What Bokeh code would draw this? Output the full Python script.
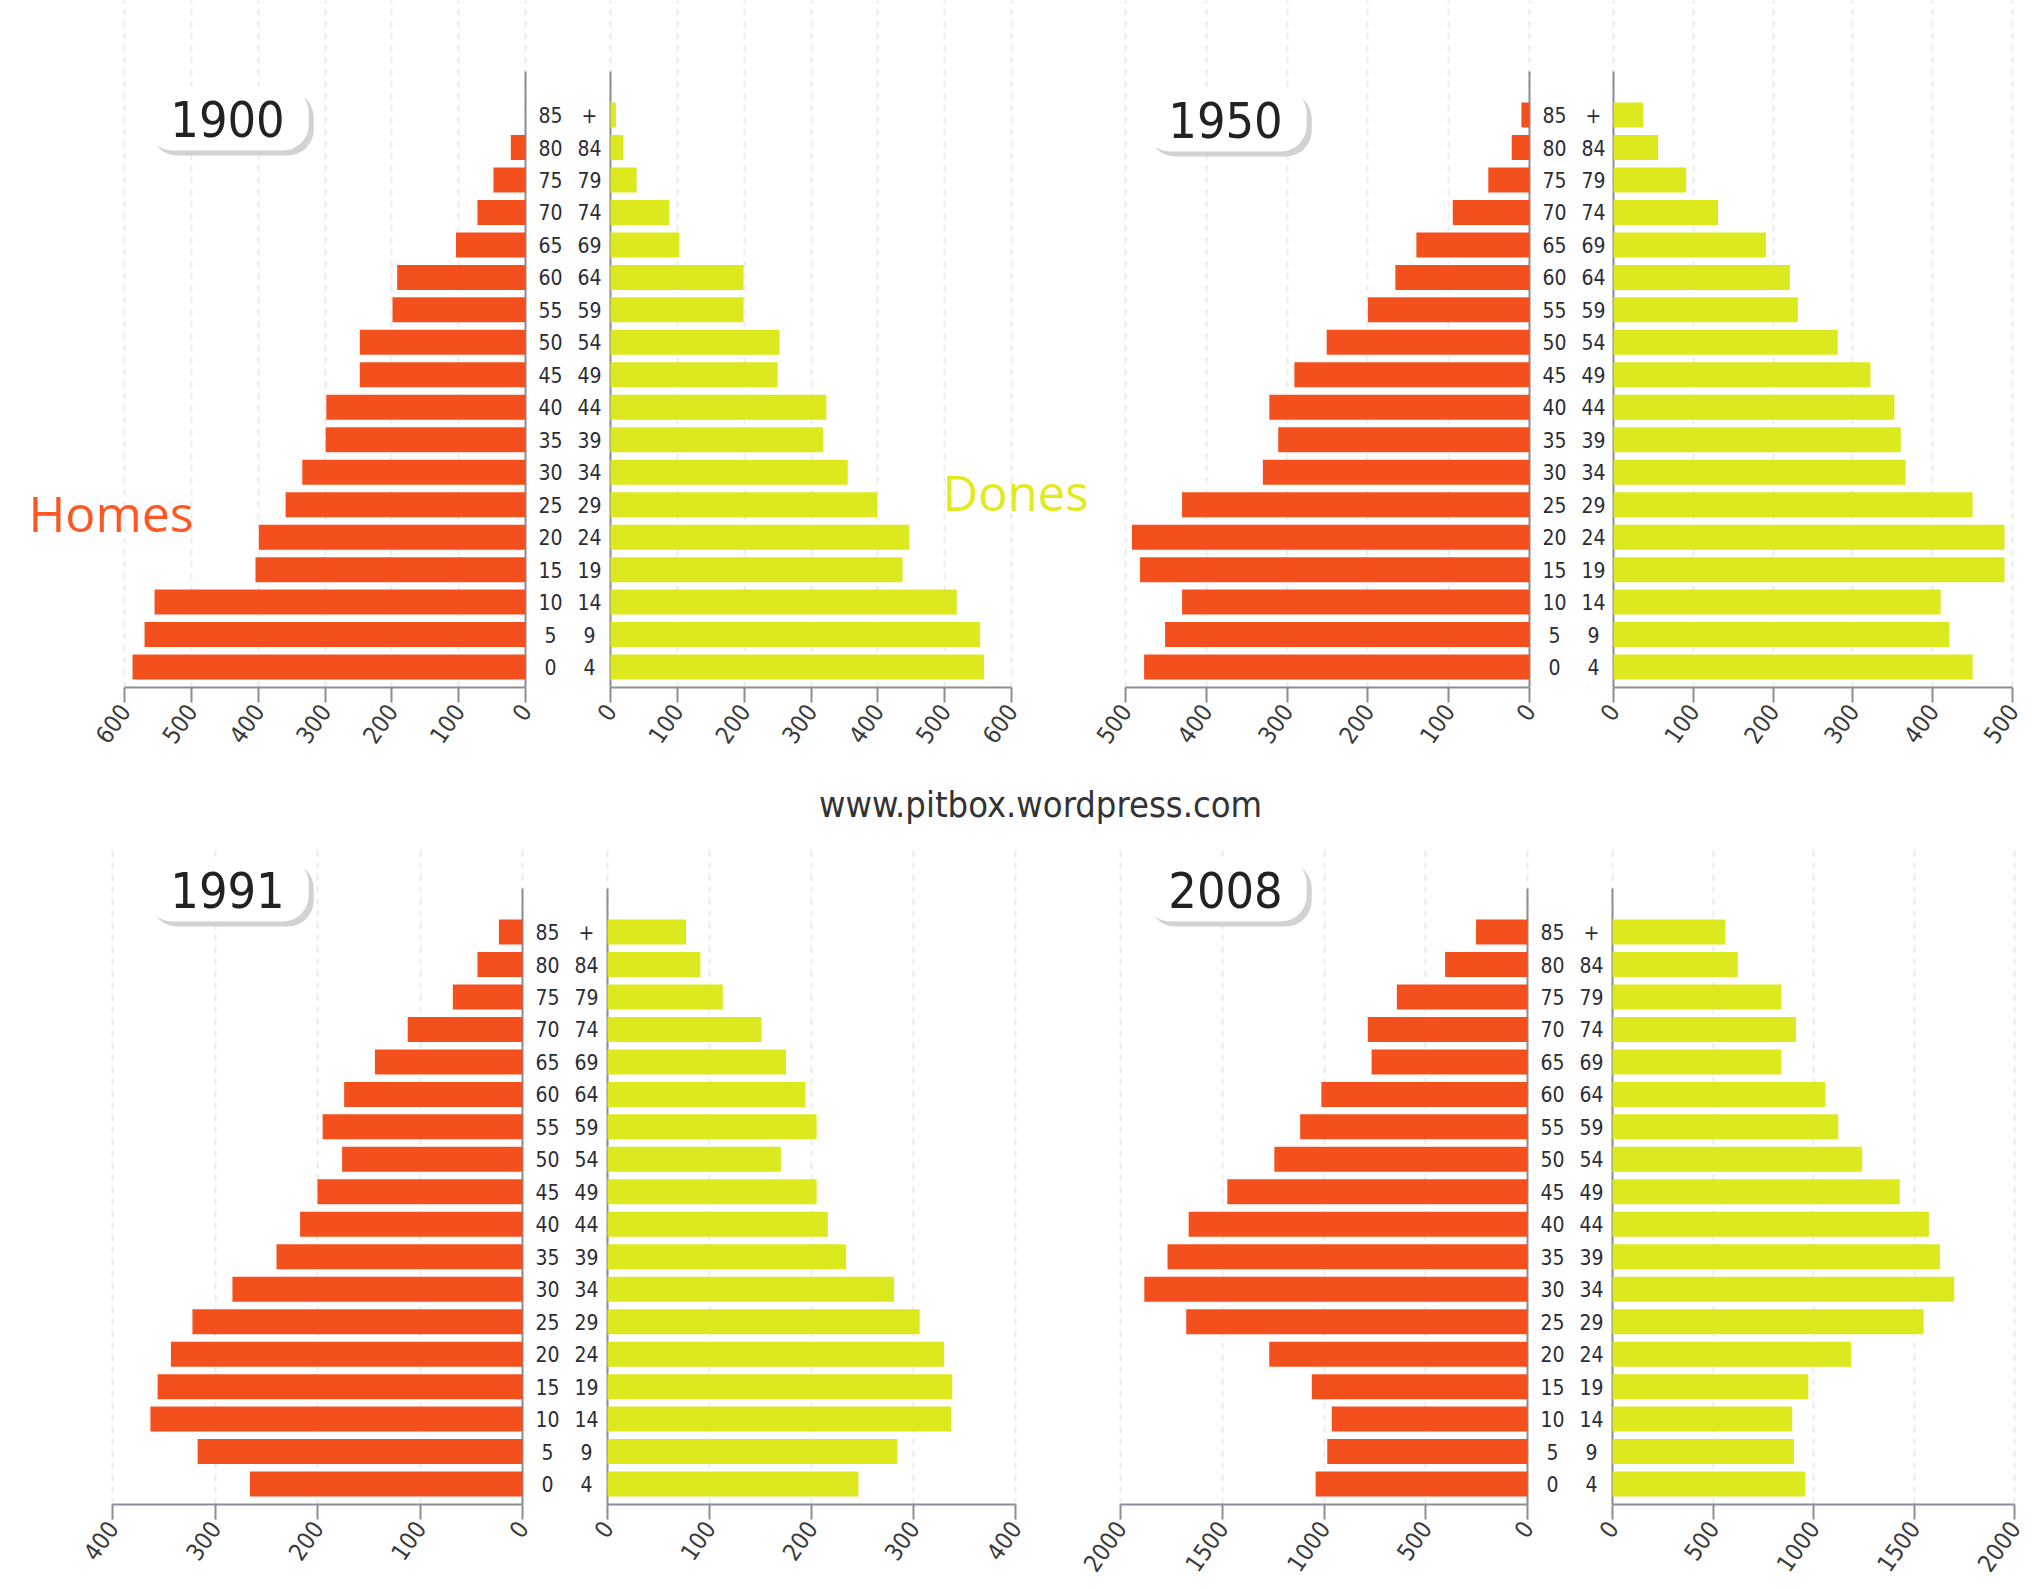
from bokeh.plotting import figure
from bokeh.models import Range1d, FixedTicker, Label
from bokeh.layouts import column, row
from bokeh.embed import file_html
from bokeh.resources import INLINE
from bokeh.core.properties import value

# ---------------- data (bottom row 0-4 first, top row 85+ last) ----------------
age_low = ["0", "5", "10", "15", "20", "25", "30", "35", "40", "45", "50", "55", "60", "65", "70", "75", "80", "85"]
age_high = ["4", "9", "14", "19", "24", "29", "34", "39", "44", "49", "54", "59", "64", "69", "74", "79", "84", "+"]

years = ["1900", "1950", "1991", "2008"]

men_1900 = [588, 570, 555, 404, 399, 359, 334, 299, 298, 248, 248, 199, 192, 104, 72, 48, 22, 0]
women_1900 = [559, 553, 518, 437, 447, 399, 355, 318, 323, 250, 253, 199, 199, 103, 88, 39, 19, 8]

men_1950 = [477, 451, 430, 482, 492, 430, 330, 311, 322, 291, 251, 200, 166, 140, 95, 51, 22, 10]
women_1950 = [450, 421, 410, 490, 490, 450, 366, 360, 352, 322, 281, 231, 221, 191, 131, 91, 56, 37]

men_1991 = [266, 317, 363, 356, 343, 322, 283, 240, 217, 200, 176, 195, 174, 144, 112, 68, 44, 23]
women_1991 = [246, 284, 337, 338, 330, 306, 281, 234, 216, 205, 170, 205, 194, 175, 151, 113, 91, 77]

men_2008 = [1041, 984, 962, 1060, 1269, 1677, 1883, 1769, 1665, 1475, 1244, 1117, 1013, 766, 785, 642, 405, 253]
women_2008 = [958, 903, 894, 974, 1187, 1548, 1700, 1629, 1574, 1429, 1242, 1123, 1058, 839, 913, 839, 623, 561]

axis_max = [600, 500, 400, 2000]
axis_step = [100, 100, 100, 500]

label_men = "Homes"
label_women = "Dones"
source_text = "www.pitbox.wordpress.com"

# ---------------- styling ----------------
RED = "#F4501E"
YEL = "#DCE91E"
AXIS = "#8c8c96"
GRID = "#e4ecec"
TXT = "#2c2c36"
COND = "DejaVu Sans Condensed, Roboto"
PX_PER_ROW = 32.47
Y0 = -0.63           # data y at the bottom edge of every frame
ZERO_TOP = 18.34     # data y where the vertical zero lines stop
GAP = 12             # px kept right of each left zero line for its rotated "0" label
idx = list(range(len(age_low)))


def base_fig(x0, x1, width, frame_h, mbb):
    y1 = Y0 + frame_h / PX_PER_ROW
    p = figure(frame_width=width, frame_height=frame_h,
               x_range=Range1d(x0, x1), y_range=Range1d(Y0, y1),
               y_axis_location=None, toolbar_location=None, output_backend="svg",
               min_border_left=0, min_border_right=0, min_border_top=0,
               min_border_bottom=mbb)
    p.background_fill_color = "white"
    p.border_fill_color = "white"
    p.outline_line_color = None
    p.ygrid.visible = False
    p.xgrid.grid_line_color = GRID
    p.xgrid.grid_line_width = 2
    p.xgrid.grid_line_dash = "6 6"
    ax = p.xaxis[0]
    ax.axis_line_color = AXIS
    ax.axis_line_width = 2
    ax.major_tick_line_color = AXIS
    ax.major_tick_line_width = 2
    ax.major_tick_out = 15
    ax.major_tick_in = 0
    ax.minor_tick_out = 0
    ax.minor_tick_in = 0
    ax.major_label_orientation = 0.96
    ax.major_label_standoff = 4
    ax.major_label_text_font = COND
    ax.major_label_text_font_size = "24px"
    ax.major_label_text_color = "#3a3a3a"
    p.segment(x0=[0], y0=[Y0], x1=[0], y1=[ZERO_TOP], line_color=AXIS, line_width=2)
    return p


def year_box(p, text, sx, sy):
    common = dict(x_units="screen", y_units="screen", text=text, text_font=COND,
                  text_font_size="50px", text_align="center", text_baseline="middle",
                  border_radius=26, padding=(24, 14))
    p.add_layout(Label(x=sx + 5, y=sy - 5, text_color="#d2d2d2",
                       background_fill_color="#d2d2d2", **common))
    p.add_layout(Label(x=sx, y=sy, text_color="#222222",
                       background_fill_color="white", **common))


def left_fig(vals, maxv, step, canvas_l, fl, zero, frame_h, mbb):
    s = (zero - fl) / maxv
    canvas_r = zero + GAP
    p = base_fig((zero - canvas_l) / s, -(canvas_r - zero) / s, canvas_r - canvas_l, frame_h, mbb)
    p.xaxis.ticker = FixedTicker(ticks=list(range(0, maxv + 1, step)))
    p.xaxis.bounds = (0, maxv)
    p.hbar(y=idx, left=0, right=vals, height=0.77, fill_color=RED, line_color=None)
    return p


def right_fig(vals, maxv, step, left_zero, zero, fr, canvas_r, frame_h, mbb):
    s = (fr - zero) / maxv
    canvas_l = left_zero + GAP
    p = base_fig(-(zero - canvas_l) / s, (canvas_r - zero) / s, canvas_r - canvas_l, frame_h, mbb)
    p.xaxis.ticker = FixedTicker(ticks=list(range(0, maxv + 1, step)))
    p.xaxis.bounds = (0, maxv)
    p.hbar(y=idx, left=0, right=vals, height=0.77, fill_color=YEL, line_color=None)
    c1 = (left_zero + 25 - zero) / s
    c2 = (left_zero + 64 - zero) / s
    p.text(x=[c1] * len(idx), y=idx, text=age_low, text_font=value(COND),
           text_font_size="21px", text_color=TXT, text_align="center", text_baseline="middle")
    p.text(x=[c2] * len(idx), y=idx, text=age_high, text_font=value(COND),
           text_font_size="21px", text_color=TXT, text_align="center", text_baseline="middle")
    return p


# ---------------- row 1 : 1900, 1950 (frame 0..687 in window px) ----------------
FH1, MB1 = 687, 83
A = left_fig(men_1900, axis_max[0], axis_step[0], 0, 124, 525, FH1, MB1)
B = right_fig(women_1900, axis_max[0], axis_step[0], 525, 610, 1011, 1092, FH1, MB1)
C = left_fig(men_1950, axis_max[1], axis_step[1], 1092, 1125, 1529, FH1, MB1)
D = right_fig(women_1950, axis_max[1], axis_step[1], 1529, 1613, 2012, 2028, FH1, MB1)

year_box(A, years[0], 227, 569)
year_box(C, years[1], 1225 - 1092, 568)

A.add_layout(Label(x=28, y=175, x_units="screen", y_units="screen", text=label_men,
                   text_font="Open Sans", text_font_size="50px", text_color="#FF5722",
                   text_align="left", text_baseline="alphabetic"))
B.add_layout(Label(x=942 - (525 + GAP), y=196, x_units="screen", y_units="screen", text=label_women,
                   text_font="Open Sans", text_font_size="49px", text_color="#E2EA1C",
                   text_align="left", text_baseline="alphabetic"))

# ---------------- source line (window y 770..845) ----------------
W = figure(width=2028, height=75, x_range=Range1d(0, 2028), y_range=Range1d(0, 75),
           min_border=0, x_axis_location=None, y_axis_location=None,
           toolbar_location=None, output_backend="svg")
W.outline_line_color = None
W.grid.visible = False
W.text(x=[1040], y=[41], text=[source_text], text_font=value(COND),
       text_font_size="36px", text_color="#333333",
       text_align="center", text_baseline="alphabetic")

# ---------------- row 2 : 1991, 2008 (frame 845..1504 in window px) ----------------
FH2, MB2 = 659, 81
E = left_fig(men_1991, axis_max[2], axis_step[2], 0, 112, 522, FH2, MB2)
F = right_fig(women_1991, axis_max[2], axis_step[2], 522, 607, 1015, 1075, FH2, MB2)
G = left_fig(men_2008, axis_max[3], axis_step[3], 1075, 1120, 1527, FH2, MB2)
H = right_fig(women_2008, axis_max[3], axis_step[3], 1527, 1612, 2014, 2028, FH2, MB2)

year_box(E, years[2], 227, 615)
year_box(G, years[3], 1225 - 1075, 615)

layout = column(row(A, B, C, D), W, row(E, F, G, H))

open("out.html", "w").write(file_html(layout, INLINE))
